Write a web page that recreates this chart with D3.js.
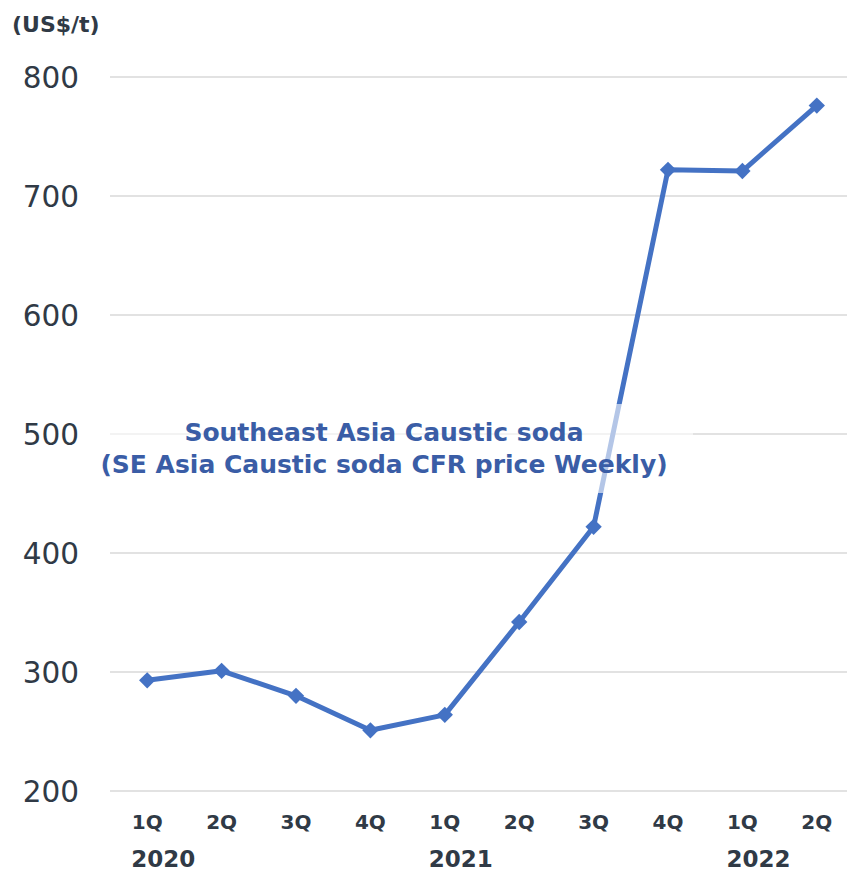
<!DOCTYPE html>
<html><head><meta charset="utf-8">
<script src="https://cdn.jsdelivr.net/npm/d3@7"></script>
<style>body{margin:0;background:#fff}svg{display:block}</style>
</head><body>
<svg id="c" width="847" height="871"></svg>
<script>
const quarters = ["1Q","2Q","3Q","4Q","1Q","2Q","3Q","4Q","1Q","2Q"];
const years = ["2020","2020","2020","2020","2021","2021","2021","2021","2022","2022"];
const prices = [293, 301, 280, 251, 264, 342, 422, 722, 721, 776];
const yTicks = [200, 300, 400, 500, 600, 700, 800];
const unitLabel = "(US$/t)";
const titleLines = ["Southeast Asia Caustic soda", "(SE Asia Caustic soda CFR price Weekly)"];

const svg = d3.select("#c");
const keys = quarters.map((q,i)=>years[i]+"-"+q);
const x = d3.scaleBand().domain(keys).range([110, 854]).padding(0);
const y = d3.scaleLinear().domain([200, 800]).range([791, 77]);
const cx = k => x(k) + x.bandwidth()/2;
const font = "'DejaVu Sans', Verdana, sans-serif";
const txt = "#303a46";

// gridlines
svg.append("g").selectAll("line").data(yTicks).join("line")
  .attr("x1", 110).attr("x2", 847)
  .attr("y1", d=>y(d)).attr("y2", d=>y(d))
  .attr("stroke", "#d9d9d9").attr("stroke-width", 1.5);

// y axis labels
const yAxis = d3.axisLeft(y).tickValues(yTicks).tickSize(0).tickPadding(0);
const gy = svg.append("g").attr("transform","translate(79,0)").call(yAxis);
gy.select(".domain").remove();
gy.selectAll("text").attr("font-family", font).attr("font-size", 29.5).attr("fill", txt).attr("dy","0.36em");

// unit
svg.append("text").attr("x", 12).attr("y", 32).text(unitLabel)
  .attr("font-family", font).attr("font-weight","bold").attr("font-size", 22).attr("fill", txt);

// x axis labels
const xAxis = d3.axisBottom(x).tickSize(0).tickPadding(0).tickFormat((k,i)=>quarters[i]);
const gx = svg.append("g").attr("transform","translate(0,829)").call(xAxis);
gx.select(".domain").remove();
gx.selectAll("text").attr("font-family", font).attr("font-weight","bold").attr("font-size", 20).attr("fill", txt).attr("dy", 0);

// year labels
const yearStarts = keys.filter((k,i)=>i===0 || years[i]!==years[i-1]);
svg.append("g").selectAll("text").data(yearStarts).join("text")
  .attr("x", d=>cx(d)+16).attr("y", 867).attr("text-anchor","middle")
  .text(d=>d.slice(0,4))
  .attr("font-family", font).attr("font-weight","bold").attr("font-size", 23).attr("fill", txt);

// line
const line = d3.line().x((d,i)=>cx(keys[i])).y(d=>y(d));
svg.append("path").datum(prices).attr("d", line)
  .attr("fill","none").attr("stroke","#4472c4").attr("stroke-width", 5).attr("stroke-linejoin","round");

// markers
svg.append("g").selectAll("path").data(prices).join("path")
  .attr("d", d3.symbol().type(d3.symbolDiamond2).size(170))
  .attr("transform", (d,i)=>`translate(${cx(keys[i])},${y(d)})`)
  .attr("fill","#4472c4");

// label box
svg.append("rect").attr("x", 96).attr("y", 404).attr("width", 597).attr("height", 89)
  .attr("fill","#fff").attr("opacity", 0.6);
svg.append("g").selectAll("text").data(titleLines).join("text")
  .attr("x", 384).attr("y", (d,i)=>441 + i*32).attr("text-anchor","middle")
  .text(d=>d)
  .attr("font-family", font).attr("font-weight","bold").attr("font-size", 25).attr("fill", "#3a5da6");
</script>
</body></html>
